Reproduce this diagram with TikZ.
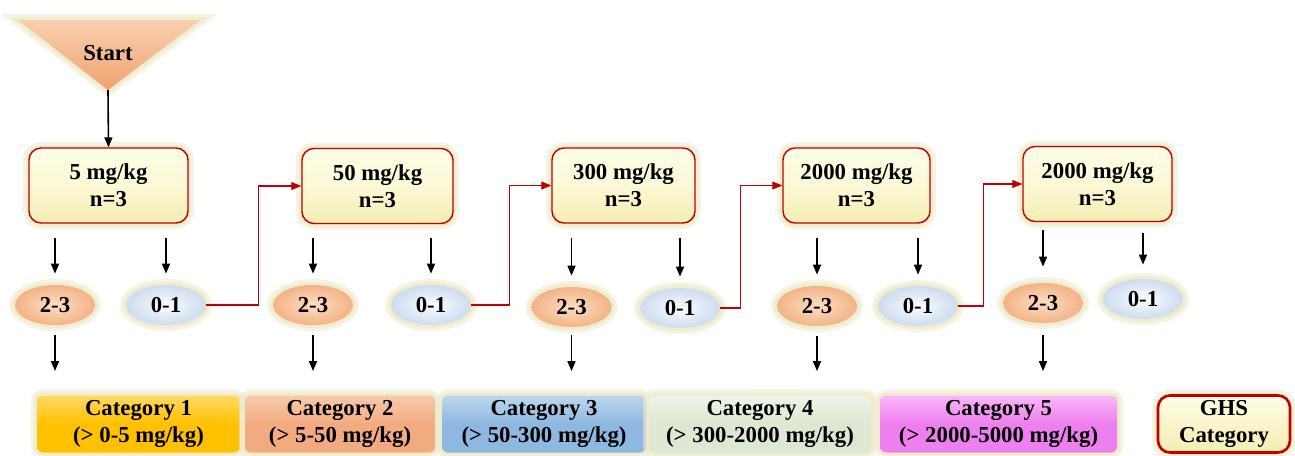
\documentclass[tikz,border=0pt]{standalone}
\usepackage{fontspec}
\setmainfont{Liberation Serif}
\usetikzlibrary{arrows.meta,calc,shapes.geometric}
\definecolor{boxred}{HTML}{C00000}
\definecolor{ylo}{HTML}{FFFDE6}
\definecolor{yhi}{HTML}{F3EDB2}
\definecolor{glowc}{HTML}{EEEBCB}
\definecolor{orlo}{HTML}{FCDEC4}
\definecolor{orhi}{HTML}{F3B386}
\definecolor{bllo}{HTML}{FBFDFF}
\definecolor{blhi}{HTML}{CDDCEE}
\definecolor{catone}{HTML}{FFC000}
\definecolor{catonehi}{HTML}{FFD966}
\definecolor{cattwo}{HTML}{F2AB80}
\definecolor{cattwohi}{HTML}{F8CBAD}
\definecolor{catthree}{HTML}{8FB8E0}
\definecolor{catthreehi}{HTML}{BDD7EE}
\definecolor{catfour}{HTML}{DCE8D2}
\definecolor{catfourhi}{HTML}{EEF5E8}
\definecolor{catfive}{HTML}{EE7FEE}
\definecolor{catfivehi}{HTML}{F8B8F8}
\definecolor{trilo}{HTML}{F9CFAE}
\definecolor{trihi}{HTML}{EFA370}
\tikzset{
  x=0.5pt, y=-0.5pt,
  txt/.style={font=\fontsize{11.4}{13.5}\selectfont\bfseries, align=center, text=black},
  glow/.style={preaction={draw=glowc, line width=6pt, opacity=0.55},
               preaction={draw=glowc, line width=3pt, opacity=0.8}},
  dosebox/.style={txt, glow, rounded corners=6pt, draw=boxred, line width=0.7pt,
                  top color=ylo, bottom color=yhi, middle color=ylo!70!yhi,
                  minimum height=37.5pt, inner sep=0pt},
  hiell/.style={txt, glow, ellipse, minimum width=40pt, minimum height=20pt, inner sep=0pt,
                inner color=orlo, outer color=orhi},
  loell/.style={txt, glow, ellipse, minimum width=40pt, minimum height=20pt, inner sep=0pt,
                inner color=bllo, outer color=blhi},
  catbox/.style={txt, glow, rounded corners=3pt, minimum height=28.5pt, inner sep=0pt},
  arr/.style={-{Triangle[length=5pt,width=4pt]}, line width=0.8pt, black},
  redarr/.style={-{Triangle[length=5pt,width=4pt]}, line width=0.6pt, boxred},
}
\begin{document}
\begin{tikzpicture}
\useasboundingbox (0,0) rectangle (1295,455);
\fill[white] (0,0) rectangle (1295,455);

% Start triangle
\coordinate (stapex) at (108,90);
\shade[glow, top color=trilo, bottom color=trihi] (18,20) -- (200,20) -- (stapex) -- cycle;
\node[txt] (start) at (108,53) {Start};

% dose boxes
\node[dosebox, minimum width=79.5pt] (b1) at (108.5,185.5) {5 mg/kg\\n=3};
\node[dosebox, minimum width=75.5pt] (b2) at (377.5,186) {50 mg/kg\\n=3};
\node[dosebox, minimum width=71.5pt] (b3) at (623.5,185.5) {300 mg/kg\\n=3};
\node[dosebox, minimum width=73.5pt] (b4) at (856.5,185.5) {2000 mg/kg\\n=3};
\node[dosebox, minimum width=74.5pt] (b5) at (1097.5,184) {2000 mg/kg\\n=3};

% outcome ellipses
\node[hiell] (a1) at (55,305) {2-3};
\node[loell] (z1) at (166,305) {0-1};
\node[hiell] (a2) at (313,305) {2-3};
\node[loell] (z2) at (431,305) {0-1};
\node[hiell] (a3) at (571.5,307) {2-3};
\node[loell] (z3) at (680,308) {0-1};
\node[hiell] (a4) at (817,306) {2-3};
\node[loell] (z4) at (918,306) {0-1};
\node[hiell] (a5) at (1043,303) {2-3};
\node[loell] (z5) at (1143,299) {0-1};

% categories
\node[catbox, minimum width=101.5pt, top color=catonehi, bottom color=catone, middle color=catone] (c1) at (138.5,424) {Category 1\\(> 0-5 mg/kg)};
\node[catbox, minimum width=95pt, top color=cattwohi, bottom color=cattwo, middle color=cattwo] (c2) at (340,424) {Category 2\\(> 5-50 mg/kg)};
\node[catbox, minimum width=102pt, top color=catthreehi, bottom color=catthree, middle color=catthree] (c3) at (544,424) {Category 3\\(> 50-300 mg/kg)};
\node[catbox, minimum width=111pt, top color=catfourhi, bottom color=catfour, middle color=catfour] (c4) at (760,424) {Category 4\\(> 300-2000 mg/kg)};
\node[catbox, minimum width=118.5pt, top color=catfivehi, bottom color=catfive, middle color=catfive] (c5) at (998.5,424) {Category 5\\(> 2000-5000 mg/kg)};
\node[catbox, rounded corners=6pt, draw=red!75!black, line width=1.3pt, minimum width=66pt, top color=ylo, bottom color=yhi] (ghs) at (1224,424) {GHS\\Category};

% start arrow
\draw[arr] (stapex) -- (b1.north);

% box -> outcome arrows
\foreach \b/\e in {b1/a1,b1/z1,b2/a2,b2/z2,b3/a3,b3/z3,b4/a4,b4/z4}{
  \draw[arr, shorten <=7pt, shorten >=5.5pt] (\b.south -| \e.north) -- (\e.north);
}
\draw[arr, shorten <=4pt, shorten >=8pt] (b5.south -| a5.north) -- (a5.north);
\draw[arr, shorten <=5.5pt, shorten >=7pt] (b5.south -| z5.north) -- (z5.north);

% outcome -> category arrows
\draw[arr, shorten <=5pt, shorten >=12pt] (a1.south) -- (a1.south |- c1.north);
\draw[arr, shorten <=5pt, shorten >=12pt] (a2.south) -- (a2.south |- c2.north);
\draw[arr, shorten <=4pt, shorten >=12pt] (a3.south) -- (a3.south |- c3.north);
\draw[arr, shorten <=5pt, shorten >=12pt] (a4.south) -- (a4.south |- c4.north);
\draw[arr, shorten <=6pt, shorten >=12pt] (a5.south) -- (a5.south |- c5.north);

% red step connectors
\draw[redarr] (z1.east) -- ++(52,0) |- (b2.west);
\draw[redarr] (z2.east) -- ++(38,0) |- (b3.west);
\draw[redarr] (z3.east) -- ++(20,0) |- (b4.west);
\draw[redarr] (z4.east) -- ++(25,0) |- (b5.west);
\end{tikzpicture}
\end{document}
